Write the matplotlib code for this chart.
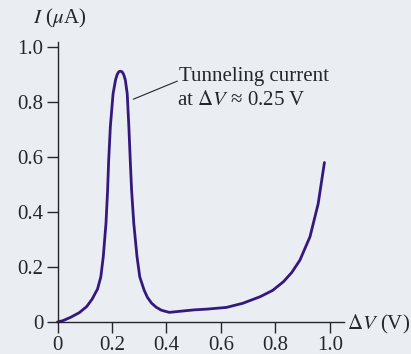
import numpy as np
import matplotlib.pyplot as plt

plt.rcParams['font.family'] = ['Liberation Serif', 'DejaVu Serif']
plt.rcParams['mathtext.fontset'] = 'stix'

# I-V curve (V in volts, I in microamps)
dv = [0, 0.02, 0.048, 0.08, 0.107, 0.127, 0.147, 0.159, 0.168, 0.178, 0.184,
      0.188, 0.194, 0.204, 0.213, 0.219, 0.225, 0.231, 0.237, 0.243, 0.249, 0.256,
      0.262, 0.267, 0.272, 0.280, 0.292, 0.302, 0.318, 0.33, 0.345, 0.362, 0.381,
      0.41, 0.46, 0.50, 0.55, 0.62, 0.68, 0.744, 0.79, 0.83, 0.86, 0.89, 0.927,
      0.957, 0.98]
cur = [0, 0.005, 0.017, 0.034, 0.056, 0.083, 0.12, 0.164, 0.237, 0.359, 0.48,
       0.59, 0.71, 0.83, 0.88, 0.90, 0.91, 0.912, 0.91, 0.90, 0.88, 0.83,
       0.71, 0.59, 0.48, 0.359, 0.237, 0.164, 0.116, 0.09, 0.069, 0.054, 0.043,
       0.035, 0.04, 0.044, 0.047, 0.053, 0.068, 0.092, 0.115, 0.147, 0.18, 0.225, 0.31,
       0.43, 0.58]
ticks = [0, 0.2, 0.4, 0.6, 0.8, 1.0]
tick_labels = ['0', '0.2', '0.4', '0.6', '0.8', '1.0']

bg = '#eaeef2'
ink = '#262629'
fig = plt.figure(figsize=(4.11, 3.54), dpi=100, facecolor=bg)
ax = fig.add_axes([57.5/411, 1 - 322/354, (343.5 - 57.5)/411, 1.02*275/354])
ax.set_facecolor(bg)

ax.plot(dv, cur, color='#35187e', lw=2.0, clip_on=False,
        solid_capstyle='round', solid_joinstyle='round')

ax.set_xlim(0, 1.05)
ax.set_ylim(0, 1.02)
for s in ['top', 'right']:
    ax.spines[s].set_visible(False)
for s in ['left', 'bottom']:
    ax.spines[s].set_color(ink)
    ax.spines[s].set_linewidth(1.0)

ax.set_xticks(ticks)
ax.set_xticklabels(tick_labels)
ax.set_yticks(ticks)
ax.set_yticklabels(tick_labels)
ax.tick_params(direction='out', length=8, width=1, colors=ink, labelsize=15, pad=2)

# annotation
ax.annotate('', xy=(0.278, 0.81), xytext=(0.44, 0.876),
            arrowprops=dict(arrowstyle='-', lw=0.8, color=ink, shrinkA=0, shrinkB=0))
ax.text(0.445, 0.893, 'Tunneling current', fontsize=15, color=ink, va='center', ha='left')
ax.text(0.44, 0.805, r'at $\Delta V$ ≈ 0.25 V', fontsize=15, color=ink, va='center', ha='left')

fig.text(33/411, 1 - 18/354, r'$I$ ($\mu$A)', fontsize=15, color=ink, va='center', ha='left')
fig.text(347/411, 1 - 324/354, r'$\Delta V$ (V)', fontsize=15, color=ink, va='center', ha='left')

fig.savefig('out.png', dpi=100, facecolor=bg)
